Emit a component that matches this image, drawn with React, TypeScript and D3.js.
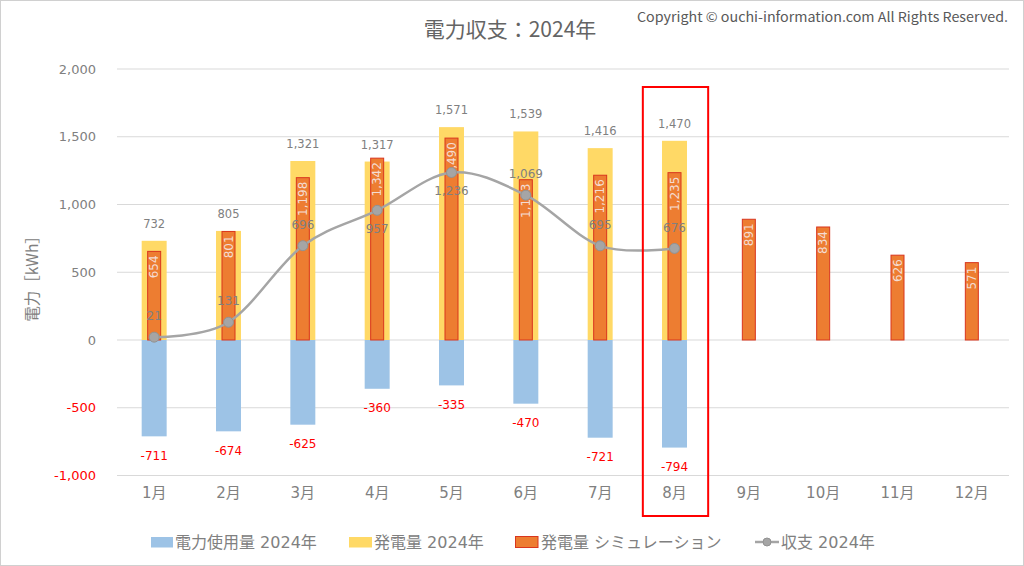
import React from 'react';
import * as d3 from 'd3';

const months = ['1月', '2月', '3月', '4月', '5月', '6月', '7月', '8月', '9月', '10月', '11月', '12月'];
const usage2024 = [-711, -674, -625, -360, -335, -470, -721, -794];
const generation2024 = [732, 805, 1321, 1317, 1571, 1539, 1416, 1470];
const simulation = [654, 801, 1198, 1342, 1490, 1183, 1216, 1235, 891, 834, 626, 571];
const balance2024 = [21, 131, 696, 957, 1236, 1069, 695, 676];
const yTicks = [-1000, -500, 0, 500, 1000, 1500, 2000];
const highlightMonth = '8月';
const balanceLabelBelow = ['4月', '5月'];
const legendItems = ['電力使用量 2024年', '発電量 2024年', '発電量 シミュレーション', '収支 2024年'];

const W = 1024;
const H = 566;
const NUM_FONT = "'DejaVu Sans', 'Noto Sans CJK JP', sans-serif";
const JP_FONT = "'Noto Sans CJK JP', sans-serif";
const GRAY_TEXT = '#808080';

const C_BLUE = '#9DC3E6';
const C_YELLOW = '#FFD966';
const C_ORANGE = '#ED7D31';
const C_ORANGE_EDGE = '#D9361E';
const C_LINE = '#A5A5A5';

const fmt0 = d3.format(',');
const fmt = (v: number) => fmt0(v).replace('\u2212', '-');

export default function App() {
  const x = d3.scaleBand<string>().domain(months).range([117, 1009]).padding(0);
  const y = d3.scaleLinear().domain([-1000, 2000]).range([475.5, 69]);
  const bw = x.bandwidth();
  const wide = bw * 0.336;
  const narrow = bw * 0.175;
  const cx = (m: string) => (x(m) as number) + bw / 2;

  const linePts: [number, number][] = balance2024.map((v, i) => [cx(months[i]), y(v)]);
  const lineGen = d3.line().curve(d3.curveCardinal.tension(0));
  const linePath = lineGen(linePts) || '';

  const hx = x(highlightMonth) as number;

  return (
    <svg width={W} height={H} style={{ position: 'absolute', left: 0, top: 0, background: '#fff' }}>
      <rect x={0.5} y={0.5} width={W - 1} height={H - 1} fill="#fff" stroke="#D0D0D0" />

      {/* title */}
      <text x={510} y={37} textAnchor="middle" fontFamily={JP_FONT} fontSize={21} fill="#646464">
        電力収支：2024年
      </text>
      <text x={1008} y={22} textAnchor="end" fontFamily={JP_FONT} fontSize={13.5} fill="#595959"
        textLength={371} lengthAdjust="spacingAndGlyphs">
        Copyright © ouchi-information.com All Rights Reserved.
      </text>

      {/* grid */}
      {yTicks.map((t) => (
        <g key={t}>
          <line x1={117} x2={1009} y1={y(t)} y2={y(t)} stroke="#D9D9D9" strokeWidth={1} />
          <text x={96} y={y(t)} dy="0.35em" textAnchor="end" fontFamily={NUM_FONT} fontSize={13}
            fill={t < 0 ? '#FF0000' : GRAY_TEXT}>
            {fmt(t)}
          </text>
        </g>
      ))}

      {/* y axis title */}
      <text transform={`translate(31,${275}) rotate(-90)`} textAnchor="middle" dominantBaseline="central"
        fontFamily={JP_FONT} fontSize={15.5} fill={GRAY_TEXT}>
        電力［kWh］
      </text>

      {/* usage bars */}
      {usage2024.map((v, i) => (
        <g key={'u' + i}>
          <rect x={cx(months[i]) - wide / 2} y={y(0)} width={wide} height={y(v) - y(0)} fill={C_BLUE} />
          <text x={cx(months[i])} y={y(v) + 19} dy="0.35em" textAnchor="middle" fontFamily={NUM_FONT}
            fontSize={12} fill="#FF0000">
            {fmt(v)}
          </text>
        </g>
      ))}

      {/* generation bars */}
      {generation2024.map((v, i) => (
        <g key={'g' + i}>
          <rect x={cx(months[i]) - wide / 2} y={y(v)} width={wide} height={y(0) - y(v)} fill={C_YELLOW} />
          <text x={cx(months[i])} y={y(v) - 17} dy="0.35em" textAnchor="middle" fontFamily={NUM_FONT}
            fontSize={11.5} fill={GRAY_TEXT}>
            {fmt(v)}
          </text>
        </g>
      ))}

      {/* simulation bars */}
      {simulation.map((v, i) => (
        <rect key={'s' + i} x={cx(months[i]) - narrow / 2} y={y(v)} width={narrow} height={y(0) - y(v)}
          fill={C_ORANGE} stroke={C_ORANGE_EDGE} strokeWidth={1} />
      ))}
      {simulation.map((v, i) => (
        <text key={'st' + i} transform={`translate(${cx(months[i])},${y(v) + 4}) rotate(-90)`}
          textAnchor="end" dominantBaseline="central" fontFamily={NUM_FONT} fontSize={12} fill="#F4DCD3">
          {fmt(v)}
        </text>
      ))}

      {/* balance line */}
      <path d={linePath} fill="none" stroke={C_LINE} strokeWidth={2.5} />
      {balance2024.map((v, i) => (
        <circle key={'c' + i} cx={cx(months[i])} cy={y(v)} r={5} fill={C_LINE} stroke="#929292" strokeWidth={1} />
      ))}
      {balance2024.map((v, i) => {
        const below = balanceLabelBelow.includes(months[i]);
        return (
          <text key={'bt' + i} x={cx(months[i])} y={y(v) + (below ? 18 : -21)} dy="0.35em" textAnchor="middle"
            fontFamily={NUM_FONT} fontSize={12} fill={GRAY_TEXT}>
            {fmt(v)}
          </text>
        );
      })}

      {/* x labels */}
      {months.map((m) => (
        <text key={'x' + m} x={cx(m)} y={493} dy="0.35em" textAnchor="middle" fontFamily={NUM_FONT} fontSize={15}
          fill={GRAY_TEXT}>
          {m}
        </text>
      ))}

      {/* highlight */}
      <rect x={hx + 5.5} y={87} width={bw - 9} height={429} fill="none" stroke="#FF0000" strokeWidth={2} />

      {/* legend */}
      <g fontFamily={NUM_FONT} fontSize={16} fill={GRAY_TEXT}>
        <rect x={151} y={537} width={22} height={10.5} fill={C_BLUE} />
        <text x={175} y={542} dy="0.35em">{legendItems[0]}</text>
        <rect x={349} y={537} width={23} height={10.5} fill={C_YELLOW} />
        <text x={374} y={542} dy="0.35em">{legendItems[1]}</text>
        <rect x={515.5} y={536.5} width={22.5} height={11} fill={C_ORANGE} stroke={C_ORANGE_EDGE} strokeWidth={1} />
        <text x={541} y={542} dy="0.35em">{legendItems[2]}</text>
        <line x1={755} x2={779} y1={542} y2={542} stroke={C_LINE} strokeWidth={2.5} />
        <circle cx={767} cy={542} r={4} fill={C_LINE} stroke="#929292" strokeWidth={1} />
        <text x={781} y={542} dy="0.35em">{legendItems[3]}</text>
      </g>
    </svg>
  );
}
